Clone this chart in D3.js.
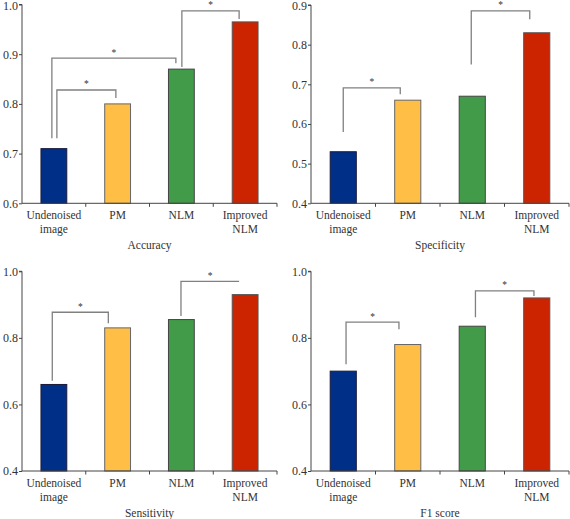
<!DOCTYPE html>
<html>
<head>
<meta charset="utf-8">
<script src="https://cdn.jsdelivr.net/npm/d3@7"></script>
<style>
  html, body { margin: 0; padding: 0; background: #fff; }
  svg text { font-family: "Liberation Serif", "Times New Roman", serif; fill: #333; }
</style>
</head>
<body>
<svg id="chart" width="570" height="519"></svg>
<script>
// ---------- DATA ----------
const categories = ["Undenoised\nimage", "PM", "NLM", "Improved\nNLM"];
const accuracy    = [0.71, 0.80, 0.87, 0.965];
const specificity = [0.53, 0.66, 0.67, 0.83];
const sensitivity = [0.66, 0.83, 0.855, 0.93];
const f1score     = [0.70, 0.78, 0.835, 0.92];
const metricNames = ["Accuracy", "Specificity", "Sensitivity", "F1 score"];
const accTicks  = [0.6, 0.7, 0.8, 0.9, 1.0];
const specTicks = [0.4, 0.5, 0.6, 0.7, 0.8, 0.9];
const sensTicks = [0.4, 0.6, 0.8, 1.0];
const f1Ticks   = [0.4, 0.6, 0.8, 1.0];
// significance brackets: [fromCategory, toCategory, topValue, leftLegValue, rightLegValue]
const accBrackets  = [[0, 1, 0.828, 0.731, 0.812], [0, 2, 0.892, 0.731, 0.882], [2, 3, 0.987, 0.874, 0.971]];
const specBrackets = [[0, 1, 0.691, 0.580, 0.675], [2, 3, 0.885, 0.750, 0.864]];
const sensBrackets = [[0, 1, 0.877, 0.671, 0.844], [2, 3, 0.970, 0.866, 0.970]];
const f1Brackets   = [[0, 1, 0.847, 0.721, 0.826], [2, 3, 0.941, 0.862, 0.926]];

// ---------- STYLE / LAYOUT ----------
const colors = ["#002f87", "#ffbf47", "#419b48", "#cc2300"];
const strokes = ["#1a1a3a", "#666", "#444", "#555"];
const panels = [
  { values: accuracy,    ticks: accTicks,  brackets: accBrackets,  name: metricNames[0],
    x0: 22,  x1: 277, yTop: 4.5,   yBot: 203.3, domain: [0.6, 1.0],
    nudges: [[3, -1.75], [-2, -5.5], [0.5, -6]] },
  { values: specificity, ticks: specTicks, brackets: specBrackets, name: metricNames[1],
    x0: 311, x1: 569, yTop: 5,     yBot: 203.3, domain: [0.4, 0.9],
    nudges: [[0, -7.5], [-1, -7]] },
  { values: sensitivity, ticks: sensTicks, brackets: sensBrackets, name: metricNames[2],
    x0: 22,  x1: 277, yTop: 271.3, yBot: 471,   domain: [0.4, 1.0],
    nudges: [[-1.6, -9.3], [-0.4, -6]] },
  { values: f1score,     ticks: f1Ticks,   brackets: f1Brackets,   name: metricNames[3],
    x0: 311, x1: 569, yTop: 271.3, yBot: 471,   domain: [0.4, 1.0],
    nudges: [[2.8, -8.8], [3.2, -2.8]] }
];

const svg = d3.select("#chart");
const axisColor = "#444";
const fs = 11.5;
const tickFs = 12;

panels.forEach(p => {
  const g = svg.append("g");
  const x = d3.scaleBand().domain(d3.range(categories.length)).range([p.x0, p.x1]).padding(0);
  const y = d3.scaleLinear().domain(p.domain).range([p.yBot, p.yTop]);
  const bw = x.bandwidth() * 0.405;
  const cx = i => x(i) + x.bandwidth() / 2;

  // bars
  g.selectAll("rect.bar").data(p.values).join("rect")
    .attr("class", "bar")
    .attr("x", (d, i) => cx(i) - bw / 2)
    .attr("width", bw)
    .attr("y", d => y(d))
    .attr("height", d => p.yBot - y(d))
    .attr("fill", (d, i) => colors[i])
    .attr("stroke", (d, i) => strokes[i])
    .attr("stroke-width", 1);

  // y axis
  const yAxis = d3.axisLeft(y).tickValues(p.ticks).tickFormat(d3.format(".1f")).tickSize(3).tickPadding(1);
  const ya = g.append("g").attr("transform", `translate(${p.x0},0)`).call(yAxis);
  ya.select(".domain").attr("stroke", axisColor).attr("d", `M-3,${p.yTop}H0V${p.yBot}`);
  ya.selectAll(".tick line").attr("stroke", axisColor);
  ya.selectAll(".tick text")
    .style("font-family", '"Liberation Serif", serif').style("font-size", tickFs + "px").attr("fill", "#333")
    .attr("y", d => Math.max(0, 5.5 - y(d)));

  // x axis: line + ticks at band boundaries
  g.append("line").attr("x1", p.x0).attr("x2", p.x1).attr("y1", p.yBot).attr("y2", p.yBot)
    .attr("stroke", axisColor).attr("stroke-width", 1);
  const bounds = d3.range(1, categories.length + 1).map(i => x(i - 1) + x.step());
  g.selectAll("line.xt").data(bounds).join("line").attr("class", "xt")
    .attr("x1", d => d).attr("x2", d => d).attr("y1", p.yBot).attr("y2", p.yBot + 3.5)
    .attr("stroke", axisColor);

  // category labels
  categories.forEach((c, i) => {
    const lines = c.split("\n");
    const t = g.append("text").attr("text-anchor", "middle").style("font-size", fs + "px");
    lines.forEach((ln, k) => {
      t.append("tspan").attr("x", cx(i)).attr("y", p.yBot + 15.5 + k * 14).text(ln);
    });
  });

  // metric title
  g.append("text").attr("x", (p.x0 + p.x1) / 2).attr("y", p.yBot + 46)
    .attr("text-anchor", "middle").style("font-size", fs + "px").text(p.name);

  // significance brackets
  p.brackets.forEach((b, k) => {
    const [a, c, top, lb, rb] = b;
    const xa = cx(a) + p.nudges[k][0];
    const xc = cx(c) + p.nudges[k][1];
    g.append("path")
      .attr("d", `M${xa},${y(lb)}V${y(top)}H${xc}V${y(rb)}`)
      .attr("fill", "none").attr("stroke", "#808080").attr("stroke-width", 1.3);
    g.append("text").attr("x", (xa + xc) / 2).attr("y", Math.max(y(top) - 2.5, 8))
      .attr("text-anchor", "middle").style("font-size", "9.5px").text("*");
  });
});
</script>
</body>
</html>
